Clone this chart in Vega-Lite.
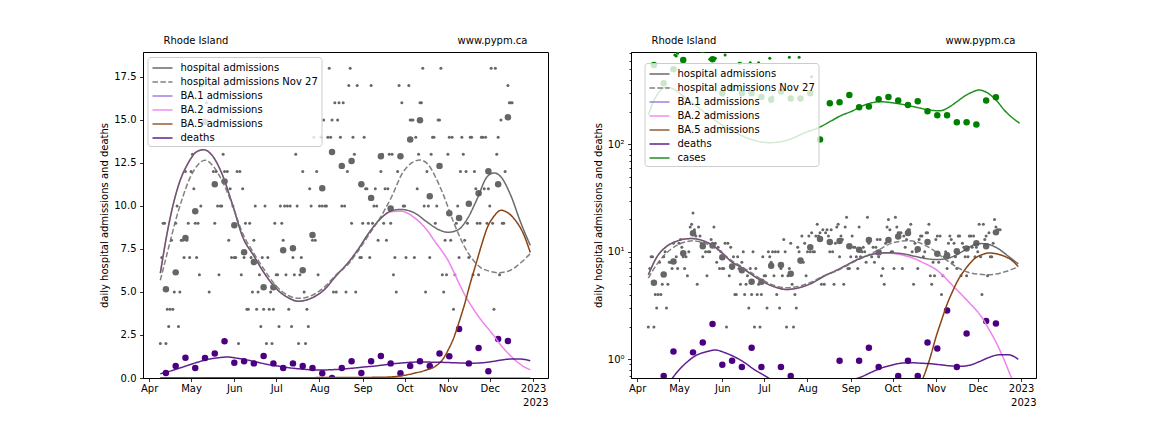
{
"$schema": "https://vega.github.io/schema/vega-lite/v6.json",
"padding": {"left": 99, "top": 35, "right": 0, "bottom": 0},
"background": "white",
"config": {
  "font": "DejaVu Sans",
  "view": {"stroke": "#000000", "strokeWidth": 1},
  "axis": {"labelFont": "DejaVu Sans", "titleFont": "DejaVu Sans", "labelFontSize": 10, "titleFontSize": 10, "titleFontWeight": "normal", "labelColor": "#000000", "titleColor": "#000000", "tickColor": "#000000", "domainColor": "#000000", "tickSize": 3.5, "tickWidth": 0.8, "domainWidth": 0.8, "labelPadding": 3.5, "grid": false},
  "axisX": {"labelPadding": 2}
},
"datasets": {
"daily": [
{"d":"2022-04-09","v":2},{"d":"2022-04-10","v":7},{"d":"2022-04-11","v":9},{"d":"2022-04-12","v":9},{"d":"2022-04-13","v":2},{"d":"2022-04-14","v":4},{"d":"2022-04-15","v":3},{"d":"2022-04-16","v":4},{"d":"2022-04-17","v":8},{"d":"2022-04-18","v":4},{"d":"2022-04-19","v":5},{"d":"2022-04-20","v":9},{"d":"2022-04-21","v":10},{"d":"2022-04-22","v":3},{"d":"2022-04-23","v":5},{"d":"2022-04-24","v":8},{"d":"2022-04-25","v":8},{"d":"2022-04-26","v":7},{"d":"2022-04-27","v":12},{"d":"2022-04-28","v":8},{"d":"2022-04-29","v":9},{"d":"2022-04-30","v":7},
{"d":"2022-05-01","v":12},{"d":"2022-05-02","v":13},{"d":"2022-05-03","v":11},{"d":"2022-05-04","v":9},{"d":"2022-05-05","v":7},{"d":"2022-05-06","v":9},{"d":"2022-05-07","v":6},{"d":"2022-05-08","v":10},{"d":"2022-05-09","v":17},{"d":"2022-05-10","v":18},{"d":"2022-05-11","v":23},{"d":"2022-05-12","v":16},{"d":"2022-05-13","v":14},{"d":"2022-05-14","v":5},{"d":"2022-05-15","v":17},{"d":"2022-05-16","v":14},{"d":"2022-05-17","v":12},{"d":"2022-05-18","v":9},{"d":"2022-05-19","v":12},{"d":"2022-05-20","v":10},{"d":"2022-05-21","v":6},{"d":"2022-05-22","v":10},{"d":"2022-05-23","v":10},{"d":"2022-05-24","v":13},{"d":"2022-05-25","v":12},{"d":"2022-05-26","v":17},{"d":"2022-05-27","v":12},{"d":"2022-05-28","v":8},{"d":"2022-05-29","v":11},{"d":"2022-05-30","v":7},{"d":"2022-05-31","v":10},
{"d":"2022-06-01","v":7},{"d":"2022-06-02","v":7},{"d":"2022-06-03","v":12},{"d":"2022-06-04","v":2},{"d":"2022-06-05","v":12},{"d":"2022-06-06","v":6},{"d":"2022-06-07","v":11},{"d":"2022-06-08","v":7},{"d":"2022-06-09","v":9},{"d":"2022-06-10","v":4},{"d":"2022-06-11","v":4},{"d":"2022-06-12","v":9},{"d":"2022-06-13","v":7},{"d":"2022-06-14","v":5},{"d":"2022-06-15","v":8},{"d":"2022-06-16","v":10},{"d":"2022-06-17","v":4},{"d":"2022-06-18","v":5},{"d":"2022-06-19","v":6},{"d":"2022-06-20","v":3},{"d":"2022-06-21","v":7},{"d":"2022-06-22","v":4},{"d":"2022-06-23","v":10},{"d":"2022-06-24","v":2},{"d":"2022-06-25","v":7},{"d":"2022-06-26","v":4},{"d":"2022-06-27","v":5},{"d":"2022-06-28","v":2},{"d":"2022-06-29","v":4},{"d":"2022-06-30","v":9},
{"d":"2022-07-01","v":6},{"d":"2022-07-02","v":6},{"d":"2022-07-03","v":3},{"d":"2022-07-04","v":10},{"d":"2022-07-05","v":9},{"d":"2022-07-06","v":8},{"d":"2022-07-07","v":10},{"d":"2022-07-08","v":6},{"d":"2022-07-09","v":10},{"d":"2022-07-10","v":4},{"d":"2022-07-11","v":10},{"d":"2022-07-12","v":3},{"d":"2022-07-13","v":7},{"d":"2022-07-14","v":6},{"d":"2022-07-15","v":13},{"d":"2022-07-16","v":10},{"d":"2022-07-17","v":2},{"d":"2022-07-18","v":6},{"d":"2022-07-19","v":7},{"d":"2022-07-20","v":12},{"d":"2022-07-21","v":5},{"d":"2022-07-22","v":2},{"d":"2022-07-23","v":4},{"d":"2022-07-24","v":3},{"d":"2022-07-25","v":11},{"d":"2022-07-26","v":10},{"d":"2022-07-27","v":8},{"d":"2022-07-28","v":14},{"d":"2022-07-29","v":8},{"d":"2022-07-30","v":12},{"d":"2022-07-31","v":6},
{"d":"2022-08-01","v":10},{"d":"2022-08-02","v":14},{"d":"2022-08-03","v":10},{"d":"2022-08-04","v":15},{"d":"2022-08-05","v":10},{"d":"2022-08-06","v":10},{"d":"2022-08-07","v":14},{"d":"2022-08-08","v":18},{"d":"2022-08-09","v":14},{"d":"2022-08-10","v":15},{"d":"2022-08-11","v":5},{"d":"2022-08-12","v":16},{"d":"2022-08-13","v":5},{"d":"2022-08-14","v":15},{"d":"2022-08-15","v":16},{"d":"2022-08-16","v":14},{"d":"2022-08-17","v":10},{"d":"2022-08-18","v":16},{"d":"2022-08-19","v":10},{"d":"2022-08-20","v":5},{"d":"2022-08-21","v":12},{"d":"2022-08-22","v":17},{"d":"2022-08-23","v":18},{"d":"2022-08-24","v":9},{"d":"2022-08-25","v":14},{"d":"2022-08-26","v":13},{"d":"2022-08-27","v":5},{"d":"2022-08-28","v":17},{"d":"2022-08-29","v":21},{"d":"2022-08-30","v":7},{"d":"2022-08-31","v":7},
{"d":"2022-09-01","v":9},{"d":"2022-09-02","v":14},{"d":"2022-09-03","v":11},{"d":"2022-09-04","v":11},{"d":"2022-09-05","v":9},{"d":"2022-09-06","v":7},{"d":"2022-09-07","v":17},{"d":"2022-09-08","v":9},{"d":"2022-09-09","v":10},{"d":"2022-09-10","v":11},{"d":"2022-09-11","v":10},{"d":"2022-09-12","v":8},{"d":"2022-09-13","v":21},{"d":"2022-09-14","v":12},{"d":"2022-09-15","v":13},{"d":"2022-09-16","v":9},{"d":"2022-09-17","v":11},{"d":"2022-09-18","v":8},{"d":"2022-09-19","v":11},{"d":"2022-09-20","v":13},{"d":"2022-09-21","v":9},{"d":"2022-09-22","v":13},{"d":"2022-09-23","v":6},{"d":"2022-09-24","v":7},{"d":"2022-09-25","v":5},{"d":"2022-09-26","v":12},{"d":"2022-09-27","v":17},{"d":"2022-09-28","v":20},{"d":"2022-09-29","v":16},{"d":"2022-09-30","v":10},
{"d":"2022-10-01","v":10},{"d":"2022-10-02","v":7},{"d":"2022-10-03","v":21},{"d":"2022-10-04","v":17},{"d":"2022-10-05","v":15},{"d":"2022-10-06","v":15},{"d":"2022-10-07","v":15},{"d":"2022-10-08","v":7},{"d":"2022-10-09","v":14},{"d":"2022-10-10","v":11},{"d":"2022-10-11","v":13},{"d":"2022-10-12","v":16},{"d":"2022-10-13","v":16},{"d":"2022-10-14","v":18},{"d":"2022-10-15","v":10},{"d":"2022-10-16","v":5},{"d":"2022-10-17","v":12},{"d":"2022-10-18","v":10},{"d":"2022-10-19","v":7},{"d":"2022-10-20","v":13},{"d":"2022-10-21","v":14},{"d":"2022-10-22","v":14},{"d":"2022-10-23","v":9},{"d":"2022-10-24","v":10},{"d":"2022-10-25","v":15},{"d":"2022-10-26","v":15},{"d":"2022-10-27","v":18},{"d":"2022-10-28","v":6},{"d":"2022-10-29","v":5},{"d":"2022-10-30","v":8},{"d":"2022-10-31","v":6},
{"d":"2022-11-01","v":13},{"d":"2022-11-02","v":14},{"d":"2022-11-03","v":8},{"d":"2022-11-04","v":14},{"d":"2022-11-05","v":4},{"d":"2022-11-06","v":6},{"d":"2022-11-07","v":9},{"d":"2022-11-08","v":10},{"d":"2022-11-09","v":7},{"d":"2022-11-10","v":12},{"d":"2022-11-11","v":14},{"d":"2022-11-12","v":13},{"d":"2022-11-13","v":8},{"d":"2022-11-14","v":12},{"d":"2022-11-15","v":9},{"d":"2022-11-16","v":7},{"d":"2022-11-17","v":14},{"d":"2022-11-18","v":14},{"d":"2022-11-19","v":6},{"d":"2022-11-20","v":12},{"d":"2022-11-21","v":11},{"d":"2022-11-22","v":9},{"d":"2022-11-23","v":6},{"d":"2022-11-24","v":9},{"d":"2022-11-25","v":14},{"d":"2022-11-26","v":14},{"d":"2022-11-27","v":11},{"d":"2022-11-28","v":14},{"d":"2022-11-29","v":9},{"d":"2022-11-30","v":11},
{"d":"2022-12-01","v":10},{"d":"2022-12-02","v":18},{"d":"2022-12-03","v":9},{"d":"2022-12-04","v":4},{"d":"2022-12-05","v":18},{"d":"2022-12-06","v":13},{"d":"2022-12-07","v":14},{"d":"2022-12-08","v":6},{"d":"2022-12-09","v":15},{"d":"2022-12-10","v":9},{"d":"2022-12-11","v":9},{"d":"2022-12-12","v":12},{"d":"2022-12-13","v":20},{"d":"2022-12-14","v":17},{"d":"2022-12-15","v":16},{"d":"2022-12-16","v":16},{"d":"2022-12-17","v":16}
],
"weekly": [
{"d":"2022-04-13","h":5.16,"m":0.29,"c":547},{"d":"2022-04-20","h":6.14,"m":0.70,"c":369},{"d":"2022-04-27","h":8.14,"m":1.18,"c":499},{"d":"2022-05-04","h":9.69,"m":0.58,"c":608},{"d":"2022-05-11","h":14.9,"m":1.16,"c":800},{"d":"2022-05-18","h":11.26,"m":1.43,"c":760},{"d":"2022-05-25","h":11.43,"m":2.13,"c":617},{"d":"2022-06-01","h":8.88,"m":0.89,"c":298},{"d":"2022-06-08","h":7.31,"m":0.97,"c":332},{"d":"2022-06-15","h":6.74,"m":0.85,"c":298},{"d":"2022-06-22","h":5.27,"m":1.28,"c":298},{"d":"2022-06-29","h":5.27,"m":0.85,"c":276},{"d":"2022-07-06","h":7.42,"m":0.58,"c":261},{"d":"2022-07-13","h":7.54,"m":0.85,"c":309},{"d":"2022-07-20","h":6.26,"m":0.70,"c":267},{"d":"2022-07-27","h":8.31,"m":0.58,"c":267},{"d":"2022-08-03","h":11.03,"m":0.27,"c":298},{"d":"2022-08-10","h":13.14,"m":0.0,"c":111},{"d":"2022-08-17","h":12.33,"m":0.58,"c":241},{"d":"2022-08-24","h":12.62,"m":0.97,"c":246},{"d":"2022-08-31","h":11.26,"m":0.29,"c":288},{"d":"2022-09-07","h":10.47,"m":0.97,"c":221},{"d":"2022-09-14","h":12.89,"m":1.28,"c":225},{"d":"2022-09-21","h":9.85,"m":0.85,"c":262},{"d":"2022-09-28","h":12.89,"m":0.27,"c":275},{"d":"2022-10-05","h":13.87,"m":0.70,"c":256},{"d":"2022-10-12","h":14.98,"m":0.97,"c":232},{"d":"2022-10-19","h":10.56,"m":0.70,"c":251},{"d":"2022-10-26","h":12.33,"m":1.43,"c":203},{"d":"2022-11-02","h":9.58,"m":1.26,"c":186},{"d":"2022-11-09","h":9.30,"m":2.85,"c":186},{"d":"2022-11-16","h":10.13,"m":0.85,"c":160},{"d":"2022-11-23","h":10.74,"m":1.74,"c":160},{"d":"2022-11-30","h":12.02,"m":0.39,"c":153},{"d":"2022-12-07","h":11.26,"m":2.27,"c":256},{"d":"2022-12-14","h":15.16,"m":2.15,"c":274}
],
"cdaily": [
{"d":"2022-04-28","v":677},{"d":"2022-04-29","v":663},{"d":"2022-04-30","v":702},{"d":"2022-05-23","v":617},{"d":"2022-05-25","v":631},{"d":"2022-05-27","v":631},{"d":"2022-06-03","v":677},{"d":"2022-06-13","v":566},{"d":"2022-06-14","v":566},{"d":"2022-06-21","v":574},{"d":"2022-06-27","v":574},{"d":"2022-07-05","v":631},{"d":"2022-07-06","v":249},{"d":"2022-07-07","v":277},{"d":"2022-07-19","v":645},{"d":"2022-07-26","v":645},{"d":"2022-08-04","v":425}
],
"curves": [
{"d":"2022-04-09","s":"hospital admissions","v":6.1},{"d":"2022-04-15","s":"hospital admissions","v":8.9},{"d":"2022-04-22","s":"hospital admissions","v":11.2},{"d":"2022-04-29","s":"hospital admissions","v":12.5},{"d":"2022-05-05","s":"hospital admissions","v":13.15},{"d":"2022-05-10","s":"hospital admissions","v":13.27},{"d":"2022-05-16","s":"hospital admissions","v":12.95},{"d":"2022-05-23","s":"hospital admissions","v":11.9},{"d":"2022-05-31","s":"hospital admissions","v":10.0},{"d":"2022-06-07","s":"hospital admissions","v":8.2},{"d":"2022-06-15","s":"hospital admissions","v":7.1},{"d":"2022-06-22","s":"hospital admissions","v":6.15},{"d":"2022-07-01","s":"hospital admissions","v":5.2},{"d":"2022-07-10","s":"hospital admissions","v":4.65},{"d":"2022-07-17","s":"hospital admissions","v":4.46},{"d":"2022-07-25","s":"hospital admissions","v":4.6},{"d":"2022-08-04","s":"hospital admissions","v":5.1},{"d":"2022-08-13","s":"hospital admissions","v":5.95},{"d":"2022-08-22","s":"hospital admissions","v":6.75},{"d":"2022-08-28","s":"hospital admissions","v":7.4},{"d":"2022-09-06","s":"hospital admissions","v":8.5},{"d":"2022-09-13","s":"hospital admissions","v":9.2},{"d":"2022-09-21","s":"hospital admissions","v":9.7},{"d":"2022-09-28","s":"hospital admissions","v":9.8},{"d":"2022-10-08","s":"hospital admissions","v":9.6},{"d":"2022-10-17","s":"hospital admissions","v":9.07},{"d":"2022-10-26","s":"hospital admissions","v":8.6},{"d":"2022-11-01","s":"hospital admissions","v":8.47},{"d":"2022-11-08","s":"hospital admissions","v":8.6},{"d":"2022-11-15","s":"hospital admissions","v":9.26},{"d":"2022-11-22","s":"hospital admissions","v":10.42},{"d":"2022-11-29","s":"hospital admissions","v":11.69},{"d":"2022-12-04","s":"hospital admissions","v":11.92},{"d":"2022-12-09","s":"hospital admissions","v":11.69},{"d":"2022-12-16","s":"hospital admissions","v":10.62},{"d":"2022-12-23","s":"hospital admissions","v":9.07},{"d":"2022-12-30","s":"hospital admissions","v":7.71},
{"d":"2022-04-09","s":"hospital admissions Nov 27","v":5.68},{"d":"2022-04-15","s":"hospital admissions Nov 27","v":7.6},{"d":"2022-04-20","s":"hospital admissions Nov 27","v":9.17},{"d":"2022-04-25","s":"hospital admissions Nov 27","v":10.5},{"d":"2022-04-30","s":"hospital admissions Nov 27","v":11.59},{"d":"2022-05-06","s":"hospital admissions Nov 27","v":12.4},{"d":"2022-05-11","s":"hospital admissions Nov 27","v":12.66},{"d":"2022-05-17","s":"hospital admissions Nov 27","v":12.3},{"d":"2022-05-23","s":"hospital admissions Nov 27","v":11.5},{"d":"2022-05-30","s":"hospital admissions Nov 27","v":10.2},{"d":"2022-06-07","s":"hospital admissions Nov 27","v":8.4},{"d":"2022-06-15","s":"hospital admissions Nov 27","v":7.25},{"d":"2022-06-22","s":"hospital admissions Nov 27","v":6.35},{"d":"2022-07-01","s":"hospital admissions Nov 27","v":5.35},{"d":"2022-07-10","s":"hospital admissions Nov 27","v":4.78},{"d":"2022-07-17","s":"hospital admissions Nov 27","v":4.63},{"d":"2022-07-25","s":"hospital admissions Nov 27","v":4.75},{"d":"2022-08-04","s":"hospital admissions Nov 27","v":5.25},{"d":"2022-08-13","s":"hospital admissions Nov 27","v":6.0},{"d":"2022-08-22","s":"hospital admissions Nov 27","v":6.65},{"d":"2022-08-28","s":"hospital admissions Nov 27","v":7.3},{"d":"2022-09-06","s":"hospital admissions Nov 27","v":8.4},{"d":"2022-09-13","s":"hospital admissions Nov 27","v":9.25},{"d":"2022-09-21","s":"hospital admissions Nov 27","v":10.42},{"d":"2022-09-30","s":"hospital admissions Nov 27","v":11.98},{"d":"2022-10-06","s":"hospital admissions Nov 27","v":12.5},{"d":"2022-10-12","s":"hospital admissions Nov 27","v":12.67},{"d":"2022-10-18","s":"hospital admissions Nov 27","v":12.4},{"d":"2022-10-23","s":"hospital admissions Nov 27","v":11.7},{"d":"2022-10-29","s":"hospital admissions Nov 27","v":10.6},{"d":"2022-11-05","s":"hospital admissions Nov 27","v":9.07},{"d":"2022-11-15","s":"hospital admissions Nov 27","v":7.33},{"d":"2022-11-24","s":"hospital admissions Nov 27","v":6.45},{"d":"2022-12-01","s":"hospital admissions Nov 27","v":6.2},{"d":"2022-12-07","s":"hospital admissions Nov 27","v":6.12},{"d":"2022-12-14","s":"hospital admissions Nov 27","v":6.2},{"d":"2022-12-21","s":"hospital admissions Nov 27","v":6.55},{"d":"2022-12-30","s":"hospital admissions Nov 27","v":7.23},
{"d":"2022-04-09","s":"BA.1 admissions","v":0.02},{"d":"2022-12-30","s":"BA.1 admissions","v":0.0},
{"d":"2022-04-09","s":"BA.2 admissions","v":6.1},{"d":"2022-04-15","s":"BA.2 admissions","v":8.9},{"d":"2022-04-22","s":"BA.2 admissions","v":11.2},{"d":"2022-04-29","s":"BA.2 admissions","v":12.5},{"d":"2022-05-05","s":"BA.2 admissions","v":13.15},{"d":"2022-05-10","s":"BA.2 admissions","v":13.27},{"d":"2022-05-16","s":"BA.2 admissions","v":12.95},{"d":"2022-05-23","s":"BA.2 admissions","v":11.9},{"d":"2022-05-31","s":"BA.2 admissions","v":10.0},{"d":"2022-06-07","s":"BA.2 admissions","v":8.2},{"d":"2022-06-15","s":"BA.2 admissions","v":7.1},{"d":"2022-06-22","s":"BA.2 admissions","v":6.15},{"d":"2022-07-01","s":"BA.2 admissions","v":5.2},{"d":"2022-07-10","s":"BA.2 admissions","v":4.65},{"d":"2022-07-17","s":"BA.2 admissions","v":4.46},{"d":"2022-07-25","s":"BA.2 admissions","v":4.6},{"d":"2022-08-04","s":"BA.2 admissions","v":5.1},{"d":"2022-08-13","s":"BA.2 admissions","v":5.95},{"d":"2022-08-22","s":"BA.2 admissions","v":6.75},{"d":"2022-08-28","s":"BA.2 admissions","v":7.4},{"d":"2022-09-06","s":"BA.2 admissions","v":8.5},{"d":"2022-09-13","s":"BA.2 admissions","v":9.2},{"d":"2022-09-21","s":"BA.2 admissions","v":9.66},{"d":"2022-09-28","s":"BA.2 admissions","v":9.7},{"d":"2022-10-08","s":"BA.2 admissions","v":9.32},{"d":"2022-10-17","s":"BA.2 admissions","v":8.6},{"d":"2022-10-23","s":"BA.2 admissions","v":7.9},{"d":"2022-10-28","s":"BA.2 admissions","v":7.35},{"d":"2022-11-01","s":"BA.2 admissions","v":6.85},{"d":"2022-11-05","s":"BA.2 admissions","v":6.2},{"d":"2022-11-09","s":"BA.2 admissions","v":5.5},{"d":"2022-11-13","s":"BA.2 admissions","v":4.85},{"d":"2022-11-17","s":"BA.2 admissions","v":4.3},{"d":"2022-11-21","s":"BA.2 admissions","v":3.8},{"d":"2022-11-25","s":"BA.2 admissions","v":3.35},{"d":"2022-11-29","s":"BA.2 admissions","v":2.95},{"d":"2022-12-04","s":"BA.2 admissions","v":2.45},{"d":"2022-12-09","s":"BA.2 admissions","v":1.9},{"d":"2022-12-14","s":"BA.2 admissions","v":1.45},{"d":"2022-12-19","s":"BA.2 admissions","v":1.05},{"d":"2022-12-25","s":"BA.2 admissions","v":0.68},{"d":"2022-12-30","s":"BA.2 admissions","v":0.48},
{"d":"2022-04-09","s":"BA.5 admissions","v":0.005},{"d":"2022-06-01","s":"BA.5 admissions","v":0.01},{"d":"2022-07-20","s":"BA.5 admissions","v":0.02},{"d":"2022-08-28","s":"BA.5 admissions","v":0.03},{"d":"2022-09-18","s":"BA.5 admissions","v":0.05},{"d":"2022-09-28","s":"BA.5 admissions","v":0.12},{"d":"2022-10-08","s":"BA.5 admissions","v":0.28},{"d":"2022-10-16","s":"BA.5 admissions","v":0.45},{"d":"2022-10-23","s":"BA.5 admissions","v":0.68},{"d":"2022-10-28","s":"BA.5 admissions","v":1.05},{"d":"2022-11-01","s":"BA.5 admissions","v":1.6},{"d":"2022-11-05","s":"BA.5 admissions","v":2.3},{"d":"2022-11-09","s":"BA.5 admissions","v":3.25},{"d":"2022-11-13","s":"BA.5 admissions","v":4.3},{"d":"2022-11-17","s":"BA.5 admissions","v":5.5},{"d":"2022-11-21","s":"BA.5 admissions","v":6.6},{"d":"2022-11-25","s":"BA.5 admissions","v":7.7},{"d":"2022-11-29","s":"BA.5 admissions","v":8.7},{"d":"2022-12-04","s":"BA.5 admissions","v":9.4},{"d":"2022-12-09","s":"BA.5 admissions","v":9.75},{"d":"2022-12-14","s":"BA.5 admissions","v":9.6},{"d":"2022-12-19","s":"BA.5 admissions","v":9.2},{"d":"2022-12-25","s":"BA.5 admissions","v":8.4},{"d":"2022-12-30","s":"BA.5 admissions","v":7.3},
{"d":"2022-04-09","s":"deaths","v":0.25},{"d":"2022-04-16","s":"deaths","v":0.4},{"d":"2022-04-23","s":"deaths","v":0.58},{"d":"2022-04-30","s":"deaths","v":0.77},{"d":"2022-05-07","s":"deaths","v":0.95},{"d":"2022-05-14","s":"deaths","v":1.1},{"d":"2022-05-21","s":"deaths","v":1.18},{"d":"2022-05-27","s":"deaths","v":1.22},{"d":"2022-06-03","s":"deaths","v":1.15},{"d":"2022-06-10","s":"deaths","v":1.05},{"d":"2022-06-17","s":"deaths","v":0.93},{"d":"2022-06-24","s":"deaths","v":0.8},{"d":"2022-07-01","s":"deaths","v":0.71},{"d":"2022-07-08","s":"deaths","v":0.62},{"d":"2022-07-15","s":"deaths","v":0.55},{"d":"2022-07-22","s":"deaths","v":0.5},{"d":"2022-07-29","s":"deaths","v":0.47},{"d":"2022-08-05","s":"deaths","v":0.47},{"d":"2022-08-12","s":"deaths","v":0.49},{"d":"2022-08-19","s":"deaths","v":0.53},{"d":"2022-08-26","s":"deaths","v":0.58},{"d":"2022-09-02","s":"deaths","v":0.64},{"d":"2022-09-09","s":"deaths","v":0.69},{"d":"2022-09-16","s":"deaths","v":0.76},{"d":"2022-09-23","s":"deaths","v":0.83},{"d":"2022-09-30","s":"deaths","v":0.88},{"d":"2022-10-07","s":"deaths","v":0.92},{"d":"2022-10-14","s":"deaths","v":0.93},{"d":"2022-10-21","s":"deaths","v":0.92},{"d":"2022-10-28","s":"deaths","v":0.91},{"d":"2022-11-04","s":"deaths","v":0.89},{"d":"2022-11-11","s":"deaths","v":0.87},{"d":"2022-11-18","s":"deaths","v":0.86},{"d":"2022-11-25","s":"deaths","v":0.88},{"d":"2022-12-02","s":"deaths","v":0.95},{"d":"2022-12-09","s":"deaths","v":1.04},{"d":"2022-12-16","s":"deaths","v":1.1},{"d":"2022-12-23","s":"deaths","v":1.1},{"d":"2022-12-30","s":"deaths","v":1.0},
{"d":"2022-04-09","s":"cases","v":187},{"d":"2022-04-13","s":"cases","v":255},{"d":"2022-04-17","s":"cases","v":310},{"d":"2022-04-21","s":"cases","v":338},{"d":"2022-04-25","s":"cases","v":335},{"d":"2022-05-01","s":"cases","v":300},{"d":"2022-05-08","s":"cases","v":255},{"d":"2022-05-14","s":"cases","v":224},{"d":"2022-05-26","s":"cases","v":170},{"d":"2022-06-07","s":"cases","v":136},{"d":"2022-06-20","s":"cases","v":113},{"d":"2022-07-05","s":"cases","v":103.5},{"d":"2022-07-20","s":"cases","v":112},{"d":"2022-07-30","s":"cases","v":128},{"d":"2022-08-08","s":"cases","v":141},{"d":"2022-08-18","s":"cases","v":165},{"d":"2022-08-25","s":"cases","v":185},{"d":"2022-09-01","s":"cases","v":201},{"d":"2022-09-11","s":"cases","v":232},{"d":"2022-09-22","s":"cases","v":249},{"d":"2022-10-04","s":"cases","v":240},{"d":"2022-10-16","s":"cases","v":224},{"d":"2022-10-28","s":"cases","v":208},{"d":"2022-11-04","s":"cases","v":205},{"d":"2022-11-10","s":"cases","v":220},{"d":"2022-11-16","s":"cases","v":249},{"d":"2022-11-22","s":"cases","v":283},{"d":"2022-11-27","s":"cases","v":306},{"d":"2022-12-02","s":"cases","v":320},{"d":"2022-12-06","s":"cases","v":310},{"d":"2022-12-10","s":"cases","v":288},{"d":"2022-12-15","s":"cases","v":250},{"d":"2022-12-20","s":"cases","v":208},{"d":"2022-12-25","s":"cases","v":180},{"d":"2022-12-31","s":"cases","v":157}
]
},
"spacing": 43,
"resolve": {"scale": {"x": "independent", "y": "independent", "color": "independent", "strokeDash": "independent"}, "axis": {"x": "independent", "y": "independent"}, "legend": {"color": "independent", "strokeDash": "independent"}},
"hconcat": [
{
"width": 405, "height": 326,
"resolve": {"axis": {"x": "independent"}},
"layer": [
{"data": {"name": "daily"}, "mark": {"type": "circle", "size": 9, "color": "#666666", "opacity": 1, "clip": true},
 "encoding": {
  "x": {"field": "d", "type": "temporal", "scale": {"type": "utc", "domain": [{"year": 2022, "month": 3, "date": 27, "hours": 14, "utc": true}, {"year": 2023, "month": 1, "date": 11, "hours": 17, "utc": true}]},
        "axis": {"values": [{"year": 2022, "month": 4, "date": 1, "utc": true}, {"year": 2022, "month": 5, "date": 1, "utc": true}, {"year": 2022, "month": 6, "date": 1, "utc": true}, {"year": 2022, "month": 7, "date": 1, "utc": true}, {"year": 2022, "month": 8, "date": 1, "utc": true}, {"year": 2022, "month": 9, "date": 1, "utc": true}, {"year": 2022, "month": 10, "date": 1, "utc": true}, {"year": 2022, "month": 11, "date": 1, "utc": true}, {"year": 2022, "month": 12, "date": 1, "utc": true}, {"year": 2023, "month": 1, "date": 1, "utc": true}],
                 "labelExpr": "utcmonth(datum.value) == 0 ? '2023' : utcFormat(datum.value, '%b')", "labelOverlap": false, "labelFlush": false,
                 "title": "2023", "titleX": 405, "titleY": 27, "titleAlign": "right", "titleBaseline": "alphabetic"}},
  "y": {"field": "v", "type": "quantitative", "title": "daily hospital admissions and deaths", "scale": {"domain": [0, 18.95], "nice": false, "zero": false},
        "axis": {"values": [0, 2.5, 5, 7.5, 10, 12.5, 15, 17.5], "format": ".1f", "labelOverlap": false}}}},
{"data": {"name": "weekly"}, "mark": {"type": "circle", "size": 42, "color": "#666666", "opacity": 1, "clip": true},
 "encoding": {
  "x": {"field": "d", "type": "temporal", "scale": {"type": "utc", "domain": [{"year": 2022, "month": 3, "date": 27, "hours": 14, "utc": true}, {"year": 2023, "month": 1, "date": 11, "hours": 17, "utc": true}]},
        "axis": {"orient": "top", "title": "Rhode Island", "labels": false, "ticks": false, "domain": false, "titleX": 20, "titleY": -8.5, "titleAlign": "left", "titleBaseline": "alphabetic"}},
  "y": {"field": "h", "type": "quantitative", "title": "daily hospital admissions and deaths", "scale": {"domain": [0, 18.95], "nice": false, "zero": false}}}},
{"data": {"name": "weekly"}, "mark": {"type": "circle", "size": 42, "color": "#4b0082", "opacity": 1, "clip": true},
 "encoding": {
  "x": {"field": "d", "type": "temporal", "scale": {"type": "utc", "domain": [{"year": 2022, "month": 3, "date": 27, "hours": 14, "utc": true}, {"year": 2023, "month": 1, "date": 11, "hours": 17, "utc": true}]},
        "axis": {"orient": "top", "title": "www.pypm.ca", "labels": false, "ticks": false, "domain": false, "titleX": 384, "titleY": -8.5, "titleAlign": "right", "titleBaseline": "alphabetic"}},
  "y": {"field": "m", "type": "quantitative", "title": "daily hospital admissions and deaths", "scale": {"domain": [0, 18.95], "nice": false, "zero": false}}}},
{"data": {"name": "curves"}, "transform": [{"filter": "datum.s != 'cases' && datum.s != 'hospital admissions' && datum.s != 'hospital admissions Nov 27' && datum.s != 'deaths'"}],
 "mark": {"type": "line", "strokeWidth": 1.5, "clip": true, "interpolate": "monotone"},
 "encoding": {
  "x": {"field": "d", "type": "temporal", "axis": null, "scale": {"type": "utc", "domain": [{"year": 2022, "month": 3, "date": 27, "hours": 14, "utc": true}, {"year": 2023, "month": 1, "date": 11, "hours": 17, "utc": true}]}},
  "y": {"field": "v", "type": "quantitative", "title": "daily hospital admissions and deaths", "scale": {"domain": [0, 18.95], "nice": false, "zero": false}},
  "color": {"field": "s", "type": "nominal", "scale": {"domain": ["hospital admissions", "hospital admissions Nov 27", "BA.1 admissions", "BA.2 admissions", "BA.5 admissions", "deaths"], "range": ["#555555", "#707070", "#9370db", "#ee82ee", "#8b4513", "#4b0082"]},
            "legend": {"orient": "none", "legendX": 4.5, "legendY": 5, "title": null, "fillColor": "rgba(255,255,255,0.8)", "strokeColor": "#cccccc", "cornerRadius": 3, "padding": 3, "symbolType": "M-1.43,0H1.43", "symbolSize": 196, "symbolStrokeWidth": 1.5, "symbolOffset": 4, "symbolOpacity": 0.8, "labelFontSize": 10, "labelFont": "DejaVu Sans", "labelColor": "#000000", "labelOffset": 10, "rowPadding": 1, "zindex": 1}},
  "strokeDash": {"field": "s", "type": "nominal", "scale": {"domain": ["hospital admissions", "hospital admissions Nov 27", "BA.1 admissions", "BA.2 admissions", "BA.5 admissions", "deaths"], "range": [[1, 0], [5.5, 2.4], [1, 0], [1, 0], [1, 0], [1, 0]]},
            "legend": {"orient": "none", "legendX": 4.5, "legendY": 5, "title": null, "fillColor": "rgba(255,255,255,0.8)", "strokeColor": "#cccccc", "cornerRadius": 3, "padding": 3, "symbolType": "M-1.43,0H1.43", "symbolSize": 196, "symbolStrokeWidth": 1.5, "symbolOffset": 4, "symbolOpacity": 0.8, "labelFontSize": 10, "labelFont": "DejaVu Sans", "labelColor": "#000000", "labelOffset": 10, "rowPadding": 1, "zindex": 1}}}},
{"data": {"name": "curves"}, "transform": [{"filter": "datum.s == 'hospital admissions Nov 27' || datum.s == 'hospital admissions' || datum.s == 'deaths'"}],
 "mark": {"type": "line", "strokeWidth": 1.5, "clip": true, "interpolate": "monotone", "opacity": 0.88},
 "encoding": {
  "x": {"field": "d", "type": "temporal", "axis": null, "scale": {"type": "utc", "domain": [{"year": 2022, "month": 3, "date": 27, "hours": 14, "utc": true}, {"year": 2023, "month": 1, "date": 11, "hours": 17, "utc": true}]}},
  "y": {"field": "v", "type": "quantitative", "title": "daily hospital admissions and deaths", "scale": {"domain": [0, 18.95], "nice": false, "zero": false}},
  "color": {"field": "s", "type": "nominal", "scale": {"domain": ["hospital admissions", "hospital admissions Nov 27", "BA.1 admissions", "BA.2 admissions", "BA.5 admissions", "deaths"], "range": ["#555555", "#707070", "#9370db", "#ee82ee", "#8b4513", "#4b0082"]}},
  "strokeDash": {"field": "s", "type": "nominal", "scale": {"domain": ["hospital admissions", "hospital admissions Nov 27", "BA.1 admissions", "BA.2 admissions", "BA.5 admissions", "deaths"], "range": [[1, 0], [5.5, 2.4], [1, 0], [1, 0], [1, 0], [1, 0]]}}}}
]
},
{
"width": 405, "height": 326,
"resolve": {"axis": {"x": "independent"}},
"layer": [
{"data": {"name": "daily"}, "transform": [{"filter": "datum.v > 0"}], "mark": {"type": "circle", "size": 9, "color": "#666666", "opacity": 1, "clip": true},
 "encoding": {
  "x": {"field": "d", "type": "temporal", "scale": {"type": "utc", "domain": [{"year": 2022, "month": 3, "date": 27, "hours": 14, "utc": true}, {"year": 2023, "month": 1, "date": 11, "hours": 17, "utc": true}]},
        "axis": {"values": [{"year": 2022, "month": 4, "date": 1, "utc": true}, {"year": 2022, "month": 5, "date": 1, "utc": true}, {"year": 2022, "month": 6, "date": 1, "utc": true}, {"year": 2022, "month": 7, "date": 1, "utc": true}, {"year": 2022, "month": 8, "date": 1, "utc": true}, {"year": 2022, "month": 9, "date": 1, "utc": true}, {"year": 2022, "month": 10, "date": 1, "utc": true}, {"year": 2022, "month": 11, "date": 1, "utc": true}, {"year": 2022, "month": 12, "date": 1, "utc": true}, {"year": 2023, "month": 1, "date": 1, "utc": true}],
                 "labelExpr": "utcmonth(datum.value) == 0 ? '2023' : utcFormat(datum.value, '%b')", "labelOverlap": false, "labelFlush": false,
                 "title": "2023", "titleX": 405, "titleY": 27, "titleAlign": "right", "titleBaseline": "alphabetic"}},
  "y": {"field": "v", "type": "quantitative", "title": "daily hospital admissions and deaths", "scale": {"type": "log", "domain": [0.67, 722], "nice": false},
        "axis": {"values": [0.7, 0.8, 0.9, 1, 2, 3, 4, 5, 6, 7, 8, 9, 10, 20, 30, 40, 50, 60, 70, 80, 90, 100, 200, 300, 400, 500, 600, 700],
                 "labelExpr": "datum.value == 1 ? '10⁰' : datum.value == 10 ? '10¹' : datum.value == 100 ? '10²' : ''", "labelOverlap": false,
                 "tickSize": {"condition": {"test": "datum.value == 1 || datum.value == 10 || datum.value == 100", "value": 3.5}, "value": 2}}}}},
{"data": {"name": "cdaily"}, "mark": {"type": "circle", "size": 9, "color": "#008000", "opacity": 1, "clip": true},
 "encoding": {
  "x": {"field": "d", "type": "temporal", "axis": null, "scale": {"type": "utc", "domain": [{"year": 2022, "month": 3, "date": 27, "hours": 14, "utc": true}, {"year": 2023, "month": 1, "date": 11, "hours": 17, "utc": true}]}},
  "y": {"field": "v", "type": "quantitative", "title": "daily hospital admissions and deaths", "scale": {"type": "log", "domain": [0.67, 722], "nice": false}}}},
{"data": {"name": "weekly"}, "mark": {"type": "circle", "size": 42, "color": "#666666", "opacity": 1, "clip": true},
 "encoding": {
  "x": {"field": "d", "type": "temporal", "scale": {"type": "utc", "domain": [{"year": 2022, "month": 3, "date": 27, "hours": 14, "utc": true}, {"year": 2023, "month": 1, "date": 11, "hours": 17, "utc": true}]},
        "axis": {"orient": "top", "title": "Rhode Island", "labels": false, "ticks": false, "domain": false, "titleX": 20, "titleY": -8.5, "titleAlign": "left", "titleBaseline": "alphabetic"}},
  "y": {"field": "h", "type": "quantitative", "title": "daily hospital admissions and deaths", "scale": {"type": "log", "domain": [0.67, 722], "nice": false}}}},
{"data": {"name": "weekly"}, "transform": [{"filter": "datum.m > 0"}], "mark": {"type": "circle", "size": 42, "color": "#4b0082", "opacity": 1, "clip": true},
 "encoding": {
  "x": {"field": "d", "type": "temporal", "scale": {"type": "utc", "domain": [{"year": 2022, "month": 3, "date": 27, "hours": 14, "utc": true}, {"year": 2023, "month": 1, "date": 11, "hours": 17, "utc": true}]},
        "axis": {"orient": "top", "title": "www.pypm.ca", "labels": false, "ticks": false, "domain": false, "titleX": 384, "titleY": -8.5, "titleAlign": "right", "titleBaseline": "alphabetic"}},
  "y": {"field": "m", "type": "quantitative", "title": "daily hospital admissions and deaths", "scale": {"type": "log", "domain": [0.67, 722], "nice": false}}}},
{"data": {"name": "weekly"}, "mark": {"type": "circle", "size": 42, "color": "#008000", "opacity": 1, "clip": true},
 "encoding": {
  "x": {"field": "d", "type": "temporal", "axis": null, "scale": {"type": "utc", "domain": [{"year": 2022, "month": 3, "date": 27, "hours": 14, "utc": true}, {"year": 2023, "month": 1, "date": 11, "hours": 17, "utc": true}]}},
  "y": {"field": "c", "type": "quantitative", "title": "daily hospital admissions and deaths", "scale": {"type": "log", "domain": [0.67, 722], "nice": false}}}},
{"data": {"name": "curves"}, "transform": [{"filter": "datum.v > 0 && (datum.s == 'BA.1 admissions' || datum.s == 'BA.2 admissions' || datum.s == 'BA.5 admissions')"}],
 "mark": {"type": "line", "strokeWidth": 1.5, "clip": true, "interpolate": "monotone"},
 "encoding": {
  "x": {"field": "d", "type": "temporal", "axis": null, "scale": {"type": "utc", "domain": [{"year": 2022, "month": 3, "date": 27, "hours": 14, "utc": true}, {"year": 2023, "month": 1, "date": 11, "hours": 17, "utc": true}]}},
  "y": {"field": "v", "type": "quantitative", "title": "daily hospital admissions and deaths", "scale": {"type": "log", "domain": [0.67, 722], "nice": false}},
  "color": {"field": "s", "type": "nominal", "scale": {"domain": ["hospital admissions", "hospital admissions Nov 27", "BA.1 admissions", "BA.2 admissions", "BA.5 admissions", "deaths", "cases"], "range": ["#555555", "#707070", "#9370db", "#ee82ee", "#8b4513", "#4b0082", "#008000"]},
            "legend": {"orient": "none", "legendX": 13.5, "legendY": 11, "title": null, "fillColor": "rgba(255,255,255,0.8)", "strokeColor": "#cccccc", "cornerRadius": 3, "padding": 3, "symbolType": "M-1.43,0H1.43", "symbolSize": 196, "symbolStrokeWidth": 1.5, "symbolOffset": 4, "symbolOpacity": 0.8, "labelFontSize": 10, "labelFont": "DejaVu Sans", "labelColor": "#000000", "labelOffset": 10, "rowPadding": 1, "zindex": 1}},
  "strokeDash": {"field": "s", "type": "nominal", "scale": {"domain": ["hospital admissions", "hospital admissions Nov 27", "BA.1 admissions", "BA.2 admissions", "BA.5 admissions", "deaths", "cases"], "range": [[1, 0], [5.5, 2.4], [1, 0], [1, 0], [1, 0], [1, 0], [1, 0]]},
            "legend": {"orient": "none", "legendX": 13.5, "legendY": 11, "title": null, "fillColor": "rgba(255,255,255,0.8)", "strokeColor": "#cccccc", "cornerRadius": 3, "padding": 3, "symbolType": "M-1.43,0H1.43", "symbolSize": 196, "symbolStrokeWidth": 1.5, "symbolOffset": 4, "symbolOpacity": 0.8, "labelFontSize": 10, "labelFont": "DejaVu Sans", "labelColor": "#000000", "labelOffset": 10, "rowPadding": 1, "zindex": 1}}}},
{"data": {"name": "curves"}, "transform": [{"filter": "datum.v > 0 && (datum.s == 'hospital admissions Nov 27' || datum.s == 'hospital admissions' || datum.s == 'deaths' || datum.s == 'cases')"}],
 "mark": {"type": "line", "strokeWidth": 1.5, "clip": true, "interpolate": "monotone", "opacity": 0.88},
 "encoding": {
  "x": {"field": "d", "type": "temporal", "axis": null, "scale": {"type": "utc", "domain": [{"year": 2022, "month": 3, "date": 27, "hours": 14, "utc": true}, {"year": 2023, "month": 1, "date": 11, "hours": 17, "utc": true}]}},
  "y": {"field": "v", "type": "quantitative", "title": "daily hospital admissions and deaths", "scale": {"type": "log", "domain": [0.67, 722], "nice": false}},
  "color": {"field": "s", "type": "nominal", "scale": {"domain": ["hospital admissions", "hospital admissions Nov 27", "BA.1 admissions", "BA.2 admissions", "BA.5 admissions", "deaths", "cases"], "range": ["#555555", "#707070", "#9370db", "#ee82ee", "#8b4513", "#4b0082", "#008000"]}},
  "strokeDash": {"field": "s", "type": "nominal", "scale": {"domain": ["hospital admissions", "hospital admissions Nov 27", "BA.1 admissions", "BA.2 admissions", "BA.5 admissions", "deaths", "cases"], "range": [[1, 0], [5.5, 2.4], [1, 0], [1, 0], [1, 0], [1, 0], [1, 0]]}}}}
]
}
]
}
